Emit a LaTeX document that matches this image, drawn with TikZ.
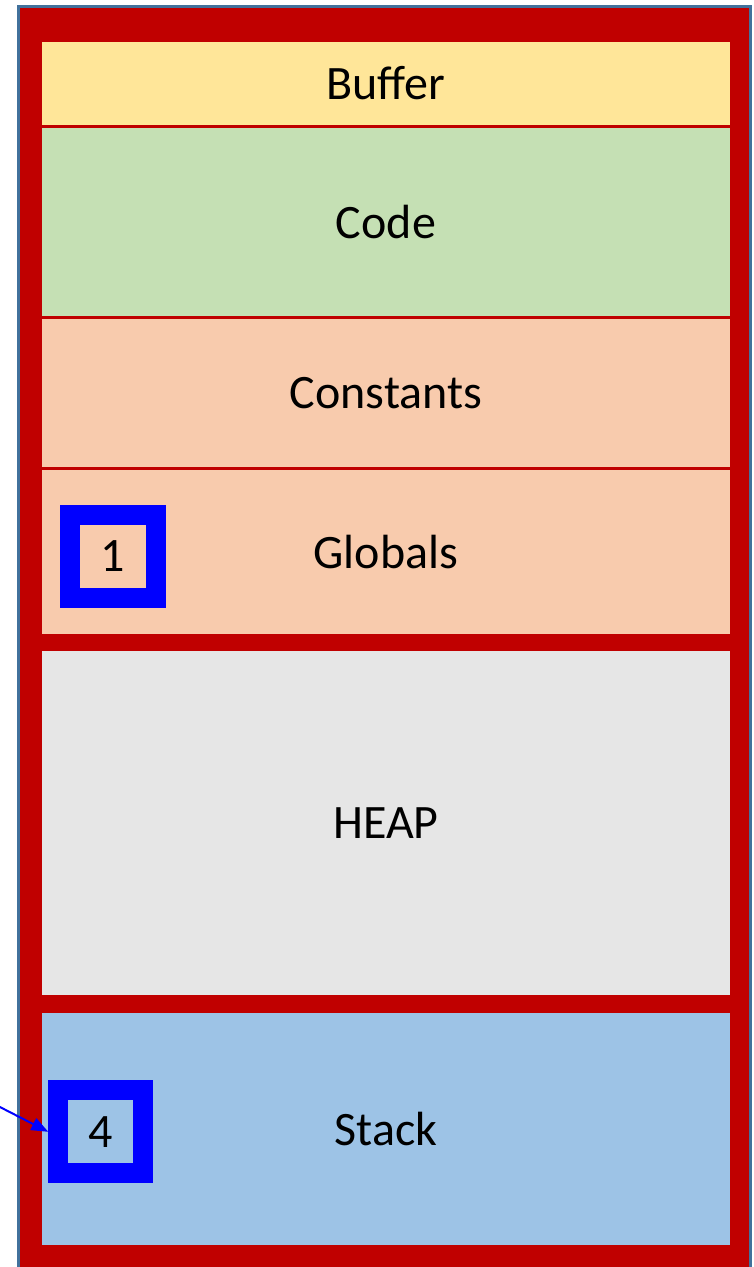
\documentclass[tikz,border=0pt]{standalone}
\usepackage{fontspec}
\setmainfont{Carlito}
\usetikzlibrary{arrows.meta}
\definecolor{frame}{HTML}{C00000}
\definecolor{rim}{HTML}{41719C}
\definecolor{buffer}{HTML}{FFE699}
\definecolor{code}{HTML}{C5E0B4}
\definecolor{const}{HTML}{F8CBAD}
\definecolor{heap}{HTML}{E6E6E6}
\definecolor{stack}{HTML}{9DC3E6}
\definecolor{mark}{HTML}{0000FF}
\tikzset{
  region/.style={rectangle, draw=none, inner sep=0pt, outer sep=0pt,
    minimum width=688pt, font=\fontsize{48}{58}\selectfont},
  tag/.style={rectangle, draw=mark, line width=20pt, inner sep=0pt,
    minimum width=85pt, minimum height=83pt, font=\fontsize{48}{58}\selectfont},
  pointer/.style={draw=mark, line width=2pt, -{Triangle[length=17pt,width=13pt]}}
}
\begin{document}
\begin{tikzpicture}[x=1pt, y=-1pt]
  \useasboundingbox (0,0) rectangle (753,1267);
  \clip (0,0) rectangle (753,1267);
  % memory frame
  \node[rectangle, fill=frame, draw=rim, line width=2.5pt, inner sep=0pt,
        minimum width=732pt, minimum height=1290pt, anchor=north west]
        (memory) at (17,5) {};
  % segments
  \node[region, fill=buffer, minimum height=83pt]  (buffer)    at (386,83.5) {Buffer};
  \node[region, fill=code,   minimum height=188pt] (code)      at (386,222)  {Code};
  \node[region, fill=const,  minimum height=148pt] (constants) at (386,393)  {Constants};
  \node[region, fill=const,  minimum height=164pt] (globals)   at (386,552)  {Globals};
  \node[region, fill=heap,   minimum height=344pt] (heap)      at (386,823)  {HEAP};
  \node[region, fill=stack,  minimum height=232pt] (stack)     at (386,1129) {Stack};
  % markers
  \node[tag, fill=const, minimum width=85.7pt, minimum height=82.6pt] (one)  at (112.9,556.3) {1};
  \node[tag, fill=stack] (four) at (100.8,1131.8) {4};
  \coordinate (src) at (-4,1105);
  \draw[pointer] (src) -- (four.west);
\end{tikzpicture}
\end{document}
